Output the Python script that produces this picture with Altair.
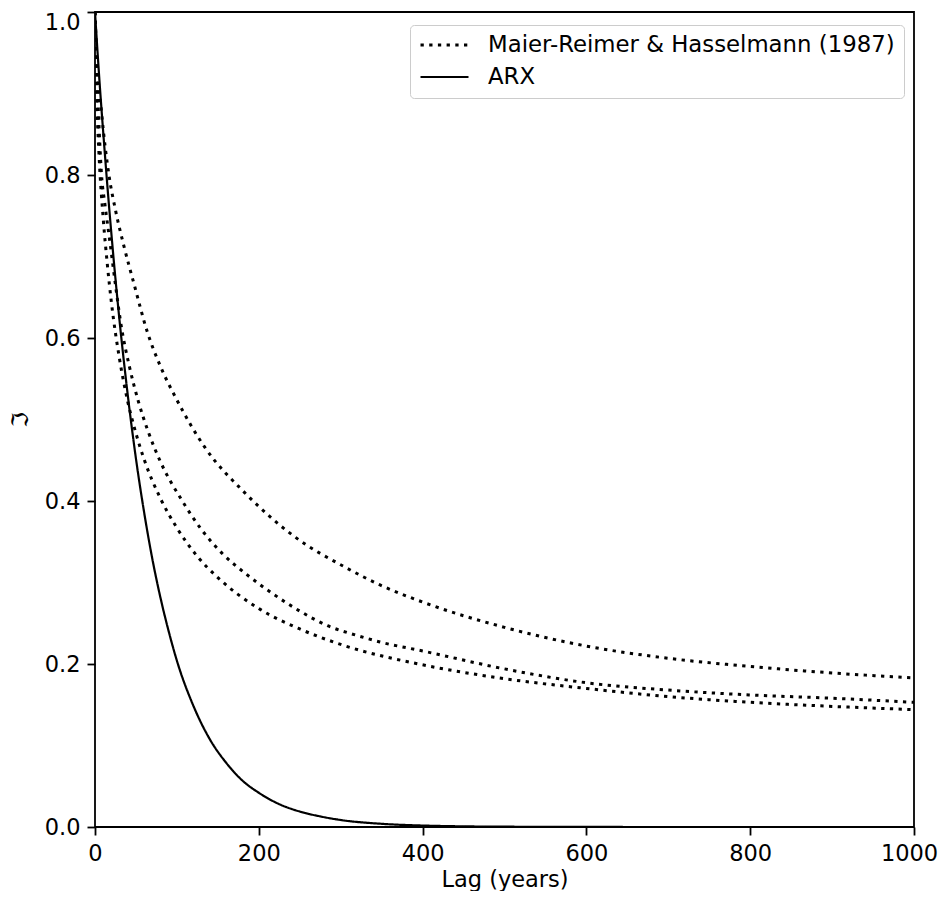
import altair as alt
import pandas as pd

LABEL_MRH = "Maier-Reimer & Hasselmann (1987)"
LABEL_ARX = "ARX"

# Maier-Reimer & Hasselmann (1987) response curves (three dotted curves)
mrh_low_lag = [0, 2, 5, 10, 15, 20, 30, 40, 50, 60, 80, 100, 125, 150, 200, 250, 300, 400, 500, 600, 700, 800, 900, 1000]
mrh_low_val = [1.0, 0.899, 0.823, 0.747, 0.691, 0.644, 0.574, 0.522, 0.483, 0.451, 0.403, 0.367, 0.332, 0.306, 0.268, 0.243, 0.224, 0.199, 0.182, 0.170, 0.160, 0.153, 0.148, 0.144]

mrh_mid_lag = [0, 2, 4, 8, 12, 19, 25, 32, 42, 53, 65, 80, 106, 130, 155, 185, 216, 250, 284, 320, 348, 400, 500, 600, 700, 800, 900, 1000]
mrh_mid_val = [1.0, 0.93, 0.88, 0.80, 0.765, 0.712, 0.665, 0.615, 0.565, 0.522, 0.485, 0.448, 0.401, 0.365, 0.336, 0.31, 0.287, 0.265, 0.247, 0.235, 0.227, 0.216, 0.194, 0.177, 0.168, 0.162, 0.158, 0.153]

mrh_up_lag = [0, 1.5, 8, 17, 25, 35, 48, 64, 80, 100, 134, 183, 244, 305, 348, 400, 500, 600, 700, 800, 900, 1000]
mrh_up_val = [1.0, 0.96, 0.877, 0.80, 0.757, 0.714, 0.665, 0.607, 0.565, 0.524, 0.466, 0.41, 0.356, 0.319, 0.297, 0.276, 0.245, 0.222, 0.207, 0.197, 0.189, 0.183]

# ARX response (solid curve)
arx_lag = [0, 5, 10, 15, 20, 30, 40, 50, 60, 70, 80, 90, 100, 120, 140, 160, 180, 200, 225, 250, 275, 300, 350, 400, 450, 500, 600, 700, 1000]
arx_val = [1.0, 0.922, 0.853, 0.788, 0.728, 0.621, 0.53, 0.452, 0.386, 0.329, 0.281, 0.24, 0.204, 0.149, 0.108, 0.079, 0.057, 0.042, 0.028, 0.019, 0.013, 0.0086, 0.0039, 0.0018, 0.0008, 0.0004, 0.0001, 0.0, 0.0]

x_ticks = [0, 200, 400, 600, 800, 1000]
y_ticks = [0.0, 0.2, 0.4, 0.6, 0.8, 1.0]

rows = []
for curve, series, lags, vals in [
    ("mrh_low", LABEL_MRH, mrh_low_lag, mrh_low_val),
    ("mrh_mid", LABEL_MRH, mrh_mid_lag, mrh_mid_val),
    ("mrh_up", LABEL_MRH, mrh_up_lag, mrh_up_val),
    ("arx", LABEL_ARX, arx_lag, arx_val),
]:
    for l, v in zip(lags, vals):
        rows.append({"lag": l, "value": v, "curve": curve, "series": series})
df = pd.DataFrame(rows)

FONT = "DejaVu Sans"
FS = 22.5

chart = alt.Chart(df).mark_line(
    interpolate="monotone", color="black", strokeCap="butt", clip=True
).encode(
    x=alt.X("lag:Q", scale=alt.Scale(domain=[0, 1000], nice=False),
            axis=alt.Axis(values=x_ticks, title="Lag (years)", format="d",
                          labelFlush=False, titlePadding=4,
                          labelOffset={"condition": {"test": "datum.value == 1000", "value": -5}, "value": 0})),
    y=alt.Y("value:Q", scale=alt.Scale(domain=[0, 1], nice=False),
            axis=alt.Axis(values=y_ticks, title="ℑ", format=".1f",
                          labelFlush=False, titlePadding=12,
                          labelOffset={"condition": {"test": "datum.value == 1", "value": 10}, "value": 0})),
    strokeDash=alt.StrokeDash(
        "series:N",
        scale=alt.Scale(domain=[LABEL_MRH, LABEL_ARX], range=[[3.3, 5.4], [1, 0]]),
        legend=alt.Legend(
            title=None, orient="none", legendX=315, legendY=13,
            symbolType="stroke", symbolSize=2304, symbolStrokeWidth=2.6,
            symbolStrokeColor="black", labelFontSize=22.8, labelFont=FONT,
            labelColor="black", labelLimit=1000, padding=9, rowPadding=9,
            labelOffset=18, clipHeight=22,
            strokeColor="#cccccc", fillColor="white", cornerRadius=4,
        ),
    ),
    strokeWidth=alt.StrokeWidth(
        "series:N",
        scale=alt.Scale(domain=[LABEL_MRH, LABEL_ARX], range=[3.0, 2.2]),
        legend=None,
    ),
    detail="curve:N",
).properties(
    width=819, height=815,
    autosize=alt.AutoSizeParams(type="none"),
    padding={"left": 87, "top": 4, "right": 24, "bottom": 64},
).configure_view(
    stroke="black", strokeWidth=1.8
).configure_axis(
    domain=False, grid=False, ticks=True, tickColor="black", tickWidth=1.8,
    tickSize=8, labelFont=FONT, labelFontSize=FS, labelColor="black",
    labelPadding=7, titleFont=FONT, titleFontSize=FS, titleFontWeight="normal",
    titleColor="black",
)

chart.save("out.html", embed_options={"renderer": "svg", "actions": False})
